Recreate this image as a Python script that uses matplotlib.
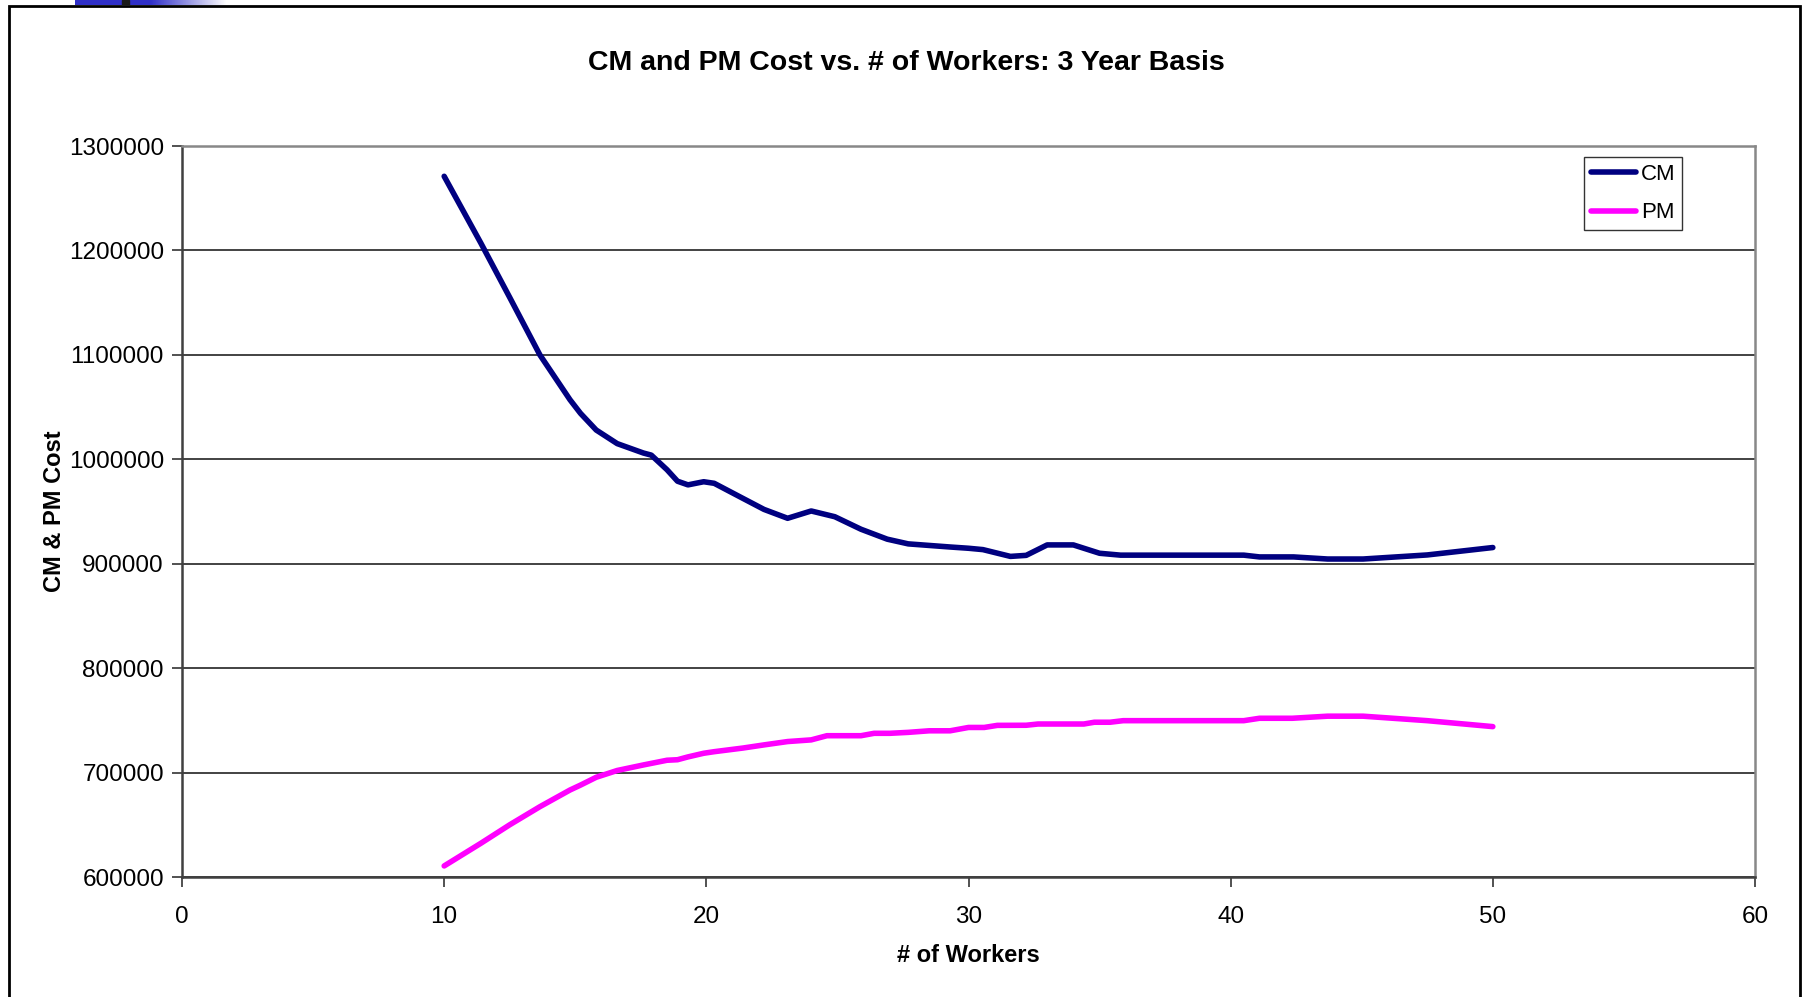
import numpy as np
import matplotlib
matplotlib.use("Agg")
import matplotlib.pyplot as plt
from matplotlib.patches import Rectangle
from matplotlib.ticker import FuncFormatter, MultipleLocator

plt.rcParams["font.family"] = ["Liberation Sans", "DejaVu Sans"]

# values
cm_workers = [10, 11.4, 12.5, 13.65, 14.8, 15.2, 15.8, 16.6, 17.6, 17.9, 18.5,
              18.9, 19.3, 19.9, 20.3, 21.4, 22.2, 23.1, 24.0, 24.9, 25.9, 26.9,
              27.7, 28.5, 29.3, 30.0, 30.55, 31.6, 32.2, 33.0, 34.0, 35.0, 35.8,
              40.5, 41.1, 42.4, 43.7, 45.05, 47.5, 50]
cm_cost = [1271000, 1207000, 1155000, 1100000, 1057000, 1044000, 1028000,
           1015000, 1006000, 1004000, 990000, 979000, 975500, 978500, 977000,
           962500, 952000, 943500, 950500, 945000, 933000, 923500, 919000,
           917500, 916000, 914800, 913500, 907000, 908000, 918000, 918000,
           910000, 908200, 908200, 906500, 906500, 904500, 904500, 908400,
           915500]

pm_workers = [10, 11.4, 12.5, 13.65, 14.8, 15.2, 15.8, 16.6, 17.6, 18.5, 18.9,
              19.3, 19.9, 20.3, 21.4, 22.2, 23.1, 24.0, 24.6, 25.9, 26.4, 27.0,
              27.7, 28.5, 29.3, 30.0, 30.6, 31.1, 32.2, 32.65, 34.4, 34.8, 35.4,
              35.9, 40.5, 41.1, 42.35, 43.7, 45.05, 47.5, 50]
pm_cost = [610600, 632300, 650000, 667300, 683300, 688000, 695500, 702000,
           707300, 711800, 712300, 715000, 718500, 720000, 723500, 726500,
           729700, 731300, 735300, 735300, 737600, 737600, 738500, 740000,
           740000, 743200, 743200, 745200, 745300, 746500, 746500, 748200,
           748200, 749700, 749700, 752000, 752000, 754000, 754000, 749700,
           744000]

W, H = 1803, 997
fig = plt.figure(figsize=(W / 100, H / 100), dpi=100)

# outer chart frame and slide decoration
fig.patches.append(Rectangle((9 / W, -0.05), (1800 - 9) / W, 1 - 6 / H + 0.05,
                             transform=fig.transFigure, fill=False,
                             edgecolor="black", linewidth=2))
deco = fig.add_axes([75 / W, 1 - 5 / H, (227 - 75) / W, 5 / H])
grad = np.concatenate([np.zeros(75), np.linspace(0, 1, 77)])
deco.imshow(grad[None, :], aspect="auto", cmap=matplotlib.colors.LinearSegmentedColormap.from_list(
    "slide", ["#3030c8", "#ffffff"]), extent=(75, 227, 0, 1))
deco.add_patch(Rectangle((122, 0), 7, 1, color="#1a1a1a"))
deco.set_xlim(75, 227)
deco.axis("off")

ax = fig.add_axes([182 / W, 1 - 877 / H, (1755 - 182) / W, (877 - 146) / H])
ax.plot(cm_workers, cm_cost, color="#000080", lw=4.0, label="CM",
        solid_capstyle="round", solid_joinstyle="round", zorder=3)
ax.plot(pm_workers, pm_cost, color="#ff00ff", lw=4.0, label="PM",
        solid_capstyle="round", solid_joinstyle="round", zorder=3)

ax.set_xlim(0, 60)
ax.set_ylim(600000, 1300000)
ax.xaxis.set_major_locator(MultipleLocator(10))
ax.yaxis.set_major_locator(MultipleLocator(100000))
ax.yaxis.set_major_formatter(FuncFormatter(lambda v, p: f"{int(v)}"))
ax.grid(axis="y", color="#222222", lw=1.2)
ax.set_axisbelow(True)
ax.tick_params(labelsize=17.5, length=7, width=1.2, color="#333333")
ax.tick_params(axis="y", pad=6)
ax.tick_params(axis="x", pad=14)

for side in ["left", "bottom"]:
    ax.spines[side].set_color("#404040")
    ax.spines[side].set_linewidth(1.8)
for side in ["top", "right"]:
    ax.spines[side].set_color("#888888")
    ax.spines[side].set_linewidth(1.8)

ax.set_xlabel("# of Workers", fontsize=17, fontweight="bold")
ax.set_ylabel("CM & PM Cost", fontsize=17, fontweight="bold")
ax.yaxis.set_label_coords(-0.0737, 0.5)
ax.xaxis.set_label_coords(0.5, -0.0913)
fig.text(906 / W, 1 - 63 / H, "CM and PM Cost vs. # of Workers: 3 Year Basis",
         ha="center", va="center", fontsize=20.5, fontweight="bold")

leg = ax.legend(loc="upper left", bbox_to_anchor=(1584 / W, 1 - 157 / H),
                bbox_transform=fig.transFigure, fontsize=16, frameon=True,
                fancybox=False, edgecolor="black", borderaxespad=0,
                handlelength=2.05, handletextpad=0.2, borderpad=0.3,
                labelspacing=0.8)
leg.get_frame().set_linewidth(1.0)

fig.savefig("out.png", dpi=100)
